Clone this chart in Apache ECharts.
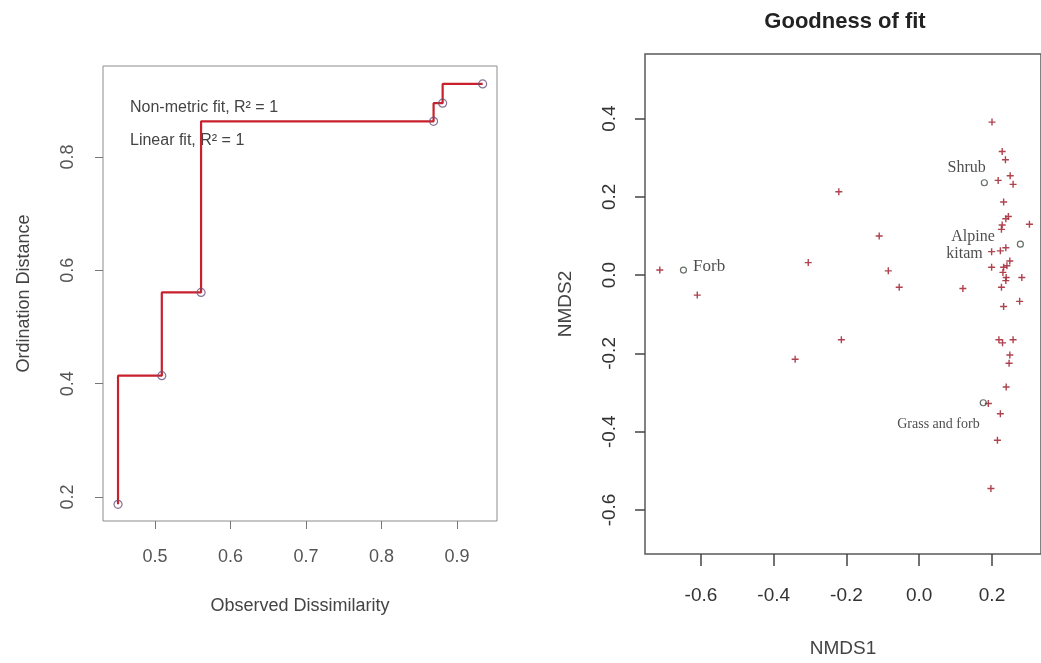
<!DOCTYPE html>
<html>
<head>
<meta charset="utf-8">
<script src="https://cdn.jsdelivr.net/npm/echarts@6/dist/echarts.min.js"></script>
<style>
html,body{margin:0;padding:0;background:#fff;}
#chart{width:1041px;height:663px;}
</style>
</head>
<body>
<div id="chart"></div>
<script>
// ---- Left panel: Shepard (stress) plot ----
const observedDissimilarity = [0.451, 0.509, 0.561, 0.869, 0.881, 0.934];
const ordinationDistance    = [0.187, 0.414, 0.561, 0.863, 0.895, 0.929];
const leftXTicks = [0.5, 0.6, 0.7, 0.8, 0.9];
const leftYTicks = [0.2, 0.4, 0.6, 0.8];
const fitTexts = ['Non-metric fit, R\u00B2 = 1', 'Linear fit, R\u00B2 = 1'];

// ---- Right panel: NMDS ordination ----
const speciesX = [-0.713, -0.610, -0.221, -0.305, -0.110, -0.085, -0.055, 0.120, 0.200, 0.228,
                  0.237, 0.217, 0.250, 0.258, 0.232, 0.238, 0.226, 0.303, 0.238, 0.223,
                  0.199, 0.249, 0.232, 0.199, 0.239, 0.282, 0.226, 0.276, 0.232, -0.214,
                  0.219, 0.229, 0.258, -0.341, 0.249, 0.247, 0.239, 0.190, 0.223, 0.215,
                  0.197, 0.241, 0.230, 0.238, 0.228, 0.245];
const speciesY = [0.013, -0.051, 0.213, 0.032, 0.100, 0.011, -0.031, -0.034, 0.391, 0.316,
                  0.295, 0.242, 0.254, 0.232, 0.187, 0.144, 0.117, 0.130, 0.070, 0.062,
                  0.060, 0.036, 0.020, 0.020, -0.006, -0.006, -0.031, -0.067, -0.080, -0.165,
                  -0.165, -0.173, -0.165, -0.215, -0.204, -0.225, -0.286, -0.328, -0.354, -0.422,
                  -0.545, 0.024, 0.007, -0.014, 0.128, 0.150];
const groupNames = ['Forb', 'Shrub', 'Alpine kitam', 'Grass and forb'];
const groupX = [-0.648, 0.179, 0.278, 0.176];
const groupY = [0.013, 0.236, 0.079, -0.326];
const rightXTicks = [-0.6, -0.4, -0.2, 0.0, 0.2];
const rightYTicks = [-0.6, -0.4, -0.2, 0.0, 0.2, 0.4];
const rightTitle = 'Goodness of fit';

const SANS = '"Liberation Sans", Arial, sans-serif';
const SERIF = '"Liberation Serif", "Times New Roman", serif';

const labelStyles = {
  'Forb': {position: 'right', distance: 6, offset: [0, -4], fontSize: 17,
           formatter: 'Forb'},
  'Shrub': {position: 'left', distance: 0, offset: [5, -15], fontSize: 16,
            formatter: 'Shrub'},
  'Alpine kitam': {position: 'left', distance: 22, offset: [0, 1], fontSize: 16,
                   formatter: '{a|Alpine}\n{b|kitam}',
                   rich: {a: {fontFamily: SERIF, fontSize: 16, color: '#222', lineHeight: 17, padding: [0, 0, 0, 0]},
                          b: {fontFamily: SERIF, fontSize: 16, color: '#222', lineHeight: 17, padding: [0, 12, 0, 0]}}},
  'Grass and forb': {position: 'left', distance: 1, offset: [1, 22], fontSize: 14,
                     formatter: 'Grass and forb'}
};

const chart = echarts.init(document.getElementById('chart'), null, {renderer: 'canvas'});

const option = {
  animation: false,
  backgroundColor: '#ffffff',
  title: {
    text: rightTitle,
    left: 840, top: 6, textAlign: 'center',
    textStyle: {fontFamily: SANS, fontSize: 22, fontWeight: 'bold', color: '#222'}
  },
  grid: [
    {left: 103, top: 66, width: 394, height: 455, show: true, borderColor: '#8c8c8c', borderWidth: 1, backgroundColor: 'transparent'},
    {left: 645, top: 54, width: 400, height: 502, show: true, borderColor: '#5a5a5a', borderWidth: 1.5, backgroundColor: 'transparent'}
  ],
  xAxis: [
    {
      type: 'value', gridIndex: 0, min: 0.4311, max: 0.953,
      name: 'Observed Dissimilarity', nameLocation: 'middle', nameGap: 76,
      nameTextStyle: {fontFamily: SANS, fontSize: 18, color: '#444'},
      axisLine: {show: false, onZero: false},
      axisTick: {show: true, length: 8, inside: false, customValues: leftXTicks, lineStyle: {color: '#777'}},
      axisLabel: {customValues: leftXTicks, margin: 27, fontFamily: SANS, fontSize: 18, color: '#555',
                  formatter: v => v.toFixed(1)},
      splitLine: {show: false}
    },
    {
      type: 'value', gridIndex: 1, min: -0.7537, max: 0.3347,
      name: 'NMDS1', nameLocation: 'middle', nameGap: 85,
      nameTextStyle: {fontFamily: SANS, fontSize: 19, color: '#444'},
      axisLine: {show: false, onZero: false},
      axisTick: {show: true, length: 12, customValues: rightXTicks, lineStyle: {color: '#444', width: 1.5}},
      axisLabel: {customValues: rightXTicks, margin: 32, fontFamily: SANS, fontSize: 19, color: '#333',
                  formatter: v => v.toFixed(1)},
      splitLine: {show: false}
    }
  ],
  yAxis: [
    {
      type: 'value', gridIndex: 0, min: 0.1576, max: 0.9606,
      name: 'Ordination Distance', nameLocation: 'middle', nameGap: 70,
      nameTextStyle: {fontFamily: SANS, fontSize: 18, color: '#444'},
      axisLine: {show: false, onZero: false},
      axisTick: {show: true, length: 8, customValues: leftYTicks, lineStyle: {color: '#777'}},
      axisLabel: {customValues: leftYTicks, rotate: 90, margin: 26, fontFamily: SANS, fontSize: 18, color: '#555',
                  formatter: v => v.toFixed(1)},
      splitLine: {show: false}
    },
    {
      type: 'value', gridIndex: 1, min: -0.7125, max: 0.565,
      name: 'NMDS2', nameLocation: 'middle', nameGap: 70,
      nameTextStyle: {fontFamily: SANS, fontSize: 19, color: '#444'},
      axisLine: {show: false, onZero: false},
      axisTick: {show: true, length: 10, customValues: rightYTicks, lineStyle: {color: '#444', width: 1.5}},
      axisLabel: {customValues: rightYTicks, rotate: 90, margin: 26, fontFamily: SANS, fontSize: 19, color: '#333',
                  formatter: v => v.toFixed(1)},
      splitLine: {show: false}
    }
  ],
  graphic: fitTexts.map((t, i) => ({
    type: 'text', left: 130, top: 100 + i * 33,
    style: {text: t, fontFamily: SANS, fontSize: 16, fill: '#444'}
  })),
  series: [
    {
      type: 'line', xAxisIndex: 0, yAxisIndex: 0, step: 'start',
      data: observedDissimilarity.map((x, i) => [x, ordinationDistance[i]]),
      showSymbol: false, lineStyle: {color: '#c8202c', width: 2.2}, z: 2
    },
    {
      type: 'scatter', xAxisIndex: 0, yAxisIndex: 0,
      data: observedDissimilarity.map((x, i) => [x, ordinationDistance[i]]),
      symbol: 'circle', symbolSize: 8,
      itemStyle: {color: 'rgba(255,255,255,0)', borderColor: '#6b4f78', borderWidth: 1.2}, z: 3
    },
    {
      type: 'scatter', xAxisIndex: 1, yAxisIndex: 1,
      data: speciesX.map((x, i) => [x, speciesY[i]]),
      symbol: 'path://M0,4 L10,4 L10,6 L0,6 Z M4,0 L6,0 L6,10 L4,10 Z', symbolSize: 7,
      itemStyle: {color: '#a52f3c', opacity: 0.9}, z: 2
    },
    {
      type: 'scatter', xAxisIndex: 1, yAxisIndex: 1,
      data: groupNames.map((n, i) => {
        const s = labelStyles[n];
        return {
          name: n, value: [groupX[i], groupY[i]],
          label: Object.assign({show: true, fontFamily: SERIF, color: '#222'}, s)
        };
      }),
      symbol: 'circle', symbolSize: 6,
      itemStyle: {color: 'rgba(255,255,255,0)', borderColor: '#3f4a40', borderWidth: 1.2}, z: 3
    }
  ]
};
chart.setOption(option);
</script>
</body>
</html>
